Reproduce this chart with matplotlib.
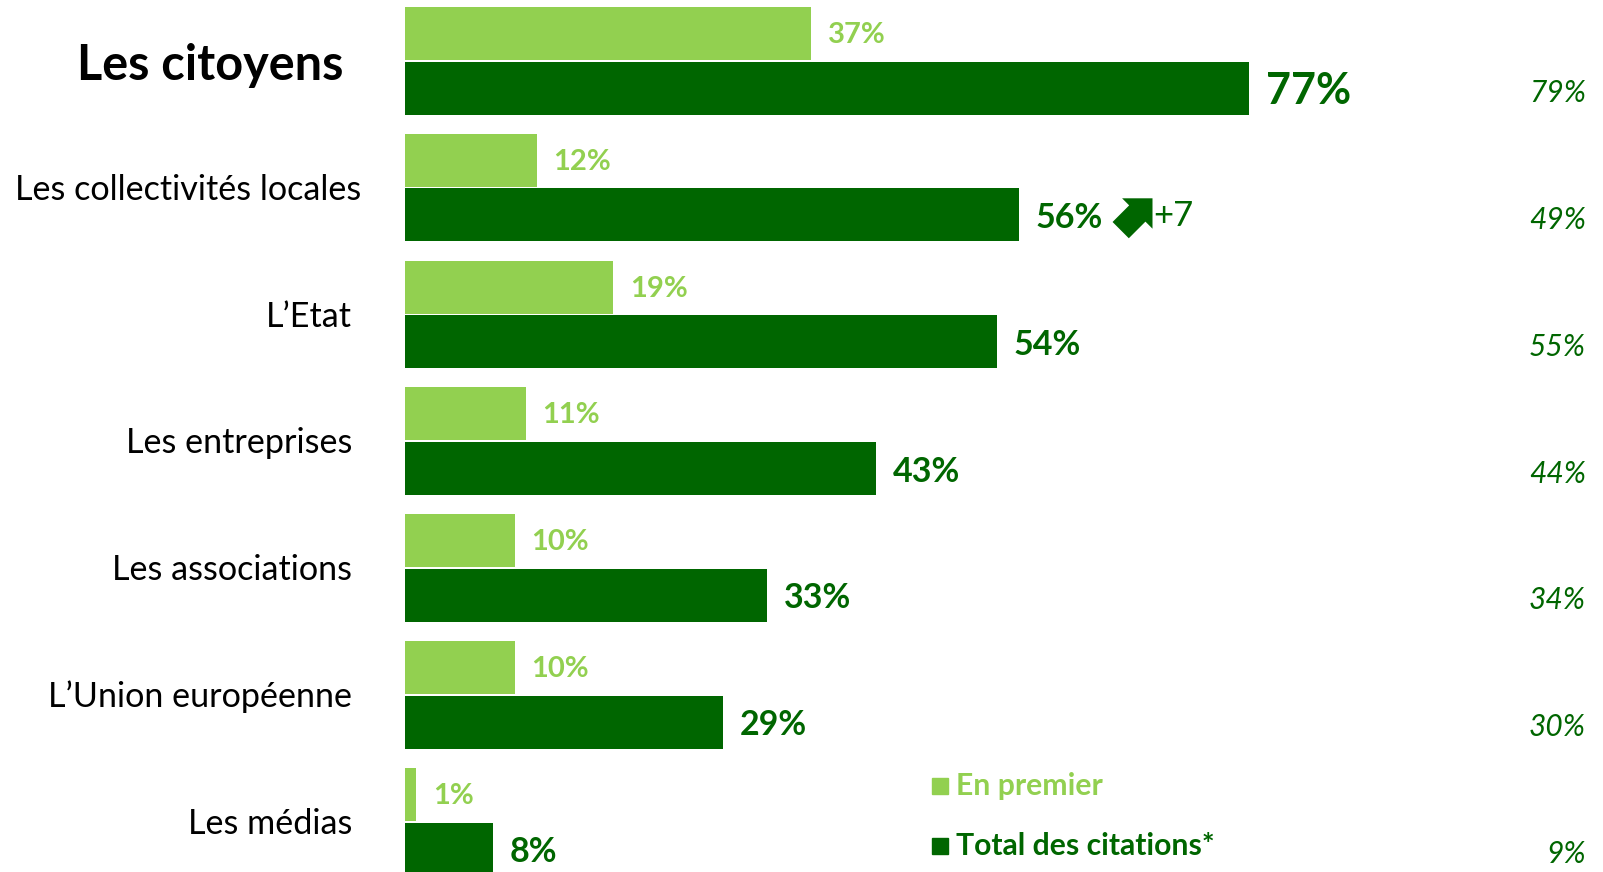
import matplotlib
matplotlib.use("Agg")
import matplotlib.pyplot as plt
import numpy as np
from matplotlib.patches import Polygon

plt.rcParams['font.family'] = ['Lato', 'DejaVu Sans']

categories = ["Les citoyens", "Les collectivités locales", "L\u2019Etat",
              "Les entreprises", "Les associations", "L\u2019Union européenne",
              "Les médias"]
en_premier = [37, 12, 19, 11, 10, 10, 1]
total_citations = [77, 56, 54, 43, 33, 29, 8]
previous_total = [79, 49, 55, 44, 34, 30, 9]
evolution_label = "+7"
evolution_index = 1

LIGHT = "#92D050"
DARK = "#006600"

W, H = 1603, 872
fig = plt.figure(figsize=(W / 100, H / 100), dpi=100)
ax = fig.add_axes([0, 0, 1, 1])
px_per_pct = 10.96
x0 = 405
ax.set_xlim(-x0 / px_per_pct, (W - x0) / px_per_pct)
ax.set_ylim(H, 0)
ax.axis("off")

step = 126.8
light_c = [33.5 + step * i for i in range(len(categories))]
dark_c = [88.2 + step * i for i in range(len(categories))]
label_c = [63 + step * i for i in range(len(categories))]

ax.barh(light_c, en_premier, height=53, color=LIGHT, left=0)
ax.barh(dark_c, total_citations, height=53, color=DARK, left=0)

gap = 17 / px_per_pct
for i, (a, b, p) in enumerate(zip(en_premier, total_citations, previous_total)):
    ax.text(a + gap, light_c[i] + 1.5, f"{a}%", color=LIGHT, fontsize=21,
            fontweight="bold", va="center", ha="left")
    big = i == 0
    ax.text(b + gap, dark_c[i] + 3, f"{b}%", color=DARK,
            fontsize=31 if big else 24.5, fontweight="bold",
            va="center", ha="left")
    ax.text((1586 - x0) / px_per_pct, dark_c[i] + 5, f"{p}%", color=DARK,
            fontsize=21.5, style="italic", va="center", ha="right")

for i, name in enumerate(categories):
    if i == 0:
        ax.text((343 - x0) / px_per_pct, label_c[i] + 3, name, color="black",
                fontsize=35, fontweight="bold", va="center", ha="right")
    elif i == 1:
        ax.text((361 - x0) / px_per_pct, label_c[i], name, color="black",
                fontsize=24.6, va="center", ha="right")
    else:
        ax.text((352 - x0) / px_per_pct, label_c[i], name, color="black",
                fontsize=24.6, va="center", ha="right")

# block arrow (pointing up-right) next to the "collectivités locales" total
yi = dark_c[evolution_index]
tip = np.array([1152.5, yi - 16.7])          # pixel position of the tip
hl, hw, tw, L = 21.5, 21.5, 11.5, 45.0       # head length/half-width, tail half-width, total length
local = np.array([(0, 0), (-hl, hw), (-hl, tw), (-L, tw),
                  (-L, -tw), (-hl, -tw), (-hl, -hw)])
u = np.array([1, -1]) / np.sqrt(2)           # along the arrow (y grows downward)
v = np.array([1, 1]) / np.sqrt(2)
pix = tip + local[:, :1] * u + local[:, 1:] * v
verts = np.column_stack([(pix[:, 0] - x0) / px_per_pct, pix[:, 1]])
ax.add_patch(Polygon(verts, closed=True, facecolor=DARK, edgecolor="none"))
ax.text((1153 - x0) / px_per_pct, yi + 1, evolution_label, color=DARK,
        fontsize=25, va="center", ha="left")

# legend
ax.plot([(940 - x0) / px_per_pct], [786], marker="s", ms=11, color=LIGHT, ls="none")
ax.plot([(940 - x0) / px_per_pct], [846], marker="s", ms=11, color=DARK, ls="none")
ax.text((956 - x0) / px_per_pct, 786, "En premier", color=LIGHT, fontsize=21.7,
        fontweight="bold", va="center", ha="left")
ax.text((956 - x0) / px_per_pct, 846, "Total des citations*", color=DARK,
        fontsize=21.7, fontweight="bold", va="center", ha="left")

fig.savefig("out.png", dpi=100)
